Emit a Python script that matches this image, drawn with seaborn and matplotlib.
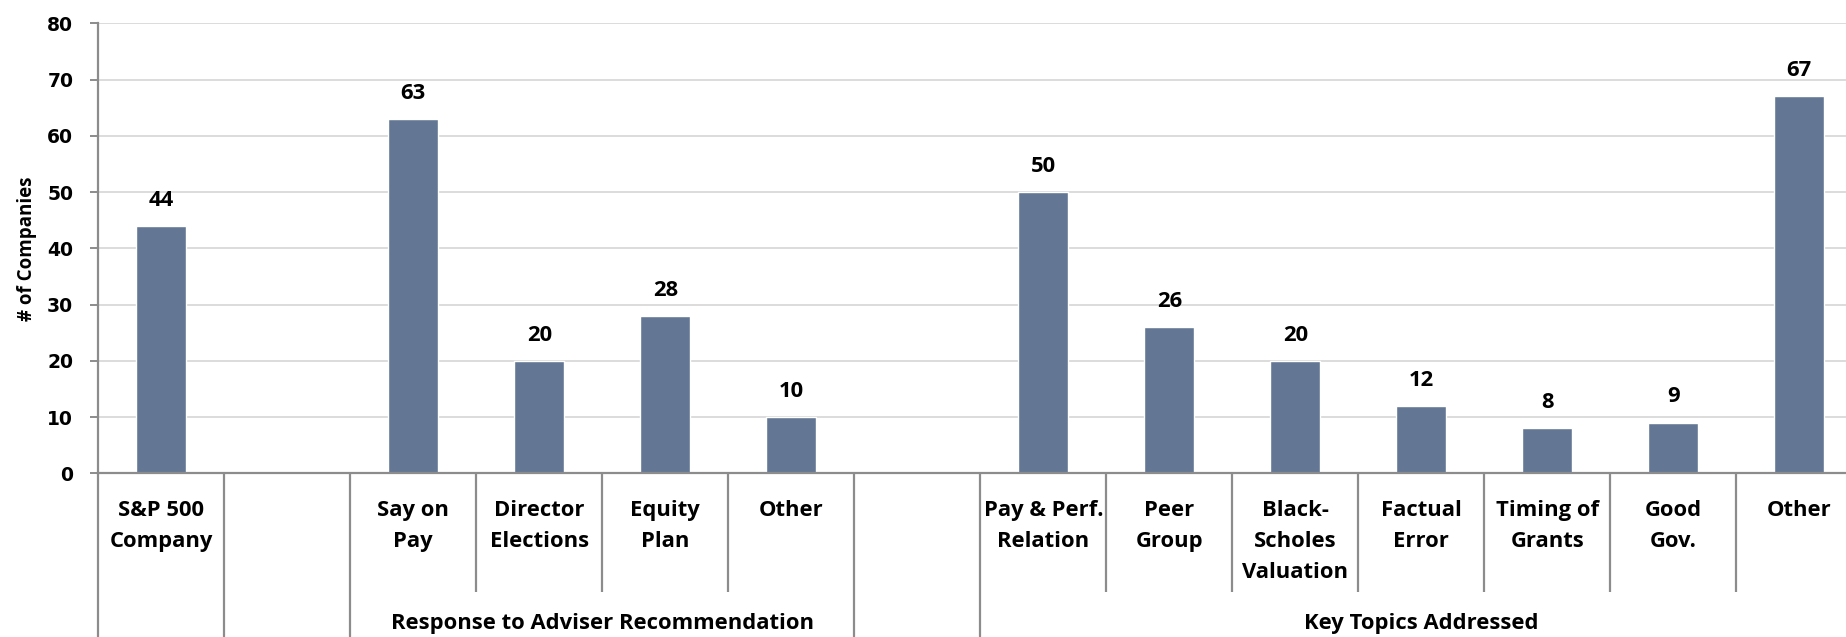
import matplotlib
matplotlib.use("Agg")
import matplotlib.pyplot as plt
import matplotlib.transforms as mtransforms
import numpy as np
import pandas as pd
import seaborn as sns

# Category slots along the x axis (two empty spacer slots separate the groups)
slot_labels = [
    "S&P 500\nCompany", "", "Say on\nPay", "Director\nElections", "Equity\nPlan",
    "Other", "", "Pay & Perf.\nRelation", "Peer\nGroup", "Black-\nScholes\nValuation",
    "Factual\nError", "Timing of\nGrants", "Good\nGov.", "Other",
]
company_counts = [44, np.nan, 63, 20, 28, 10, np.nan, 50, 26, 20, 12, 8, 9, 67]

# Outer grouping row: (first slot, last slot, label)
group_spans = [
    (0, 0, ""),
    (1, 1, ""),
    (2, 5, "Response to Adviser Recommendation"),
    (6, 6, ""),
    (7, 13, "Key Topics Addressed"),
]

y_ticks = [0, 10, 20, 30, 40, 50, 60, 70, 80]

sns.set_theme(style="white")
plt.rcParams["font.family"] = ["Open Sans", "DejaVu Sans"]

BAR = "#637794"
AXIS_GREY = "#8c8c8c"
GRID_GREY = "#d9d9d9"
LABEL_SIZE = 15.8

slot_keys = [f"slot{i}" for i in range(len(slot_labels))]
df = pd.DataFrame({"slot": slot_keys, "count": company_counts})

W, H = 1846, 637
fig = plt.figure(figsize=(W / 100, H / 100), dpi=100)
ax_left, ax_right = 98.3, 98.3 + 14 * 126.0
ax_top, ax_bottom = 23.3, 473.3
ax = fig.add_axes([ax_left / W, 1 - ax_bottom / H,
                   (ax_right - ax_left) / W, (ax_bottom - ax_top) / H])

sns.barplot(data=df, x="slot", y="count", order=slot_keys, color=BAR,
            width=50 / 126.0, saturation=1, ax=ax, errorbar=None)

ax.set_xlim(-0.5, len(slot_keys) - 0.5)
ax.set_ylim(0, 80)
ax.set_yticks(y_ticks)
ax.set_yticklabels([str(t) for t in y_ticks], fontfamily="DejaVu Sans",
                   fontweight="bold", fontsize=13.5, color="black")
ax.yaxis.grid(True, color=GRID_GREY, linewidth=1.3)
ax.set_axisbelow(True)

for side in ("top", "right"):
    ax.spines[side].set_visible(False)
for side in ("left", "bottom"):
    ax.spines[side].set_color(AXIS_GREY)
    ax.spines[side].set_linewidth(1.6)

ax.tick_params(axis="y", which="major", length=6, width=1.4, color=AXIS_GREY,
               pad=12, left=True)
ax.tick_params(axis="x", length=0, pad=19)
ax.set_xticks(range(len(slot_keys)))
ax.set_xticklabels(slot_labels, fontweight="bold", fontsize=LABEL_SIZE,
                   color="black", linespacing=1.65, va="top")
ax.set_xlabel("")
ax.set_ylabel("# of Companies", fontweight="bold", fontsize=13.5,
              color="black", labelpad=7)

# Value labels above each bar
for i, v in enumerate(company_counts):
    if not np.isnan(v):
        ax.annotate(f"{int(v)}", (i, v), xytext=(0, 11), textcoords="offset points",
                    ha="center", va="bottom", fontweight="bold",
                    fontsize=LABEL_SIZE, color="black")

# Multi-level category separators below the axis
trans = mtransforms.blended_transform_factory(ax.transData, ax.transAxes)
fig_bottom = -(H - ax_bottom) / (ax_bottom - ax_top)
inner_bottom = -(592 - ax_bottom) / (ax_bottom - ax_top)
outer_bounds = set()
for first, last, _ in group_spans:
    outer_bounds.add(first - 0.5)
    outer_bounds.add(last + 0.5)
for b in np.arange(-0.5, len(slot_keys), 1.0):
    y_end = fig_bottom if b in outer_bounds else inner_bottom
    ax.plot([b, b], [0, y_end], transform=trans, color=AXIS_GREY,
            linewidth=1.6, clip_on=False, solid_capstyle="butt")

group_y = -(624 - ax_bottom) / (ax_bottom - ax_top)
for first, last, name in group_spans:
    if name:
        ax.text((first + last) / 2, group_y, name, transform=trans, ha="center",
                va="center", fontweight="bold", fontsize=LABEL_SIZE, color="black")

fig.savefig("out.png", dpi=100)
